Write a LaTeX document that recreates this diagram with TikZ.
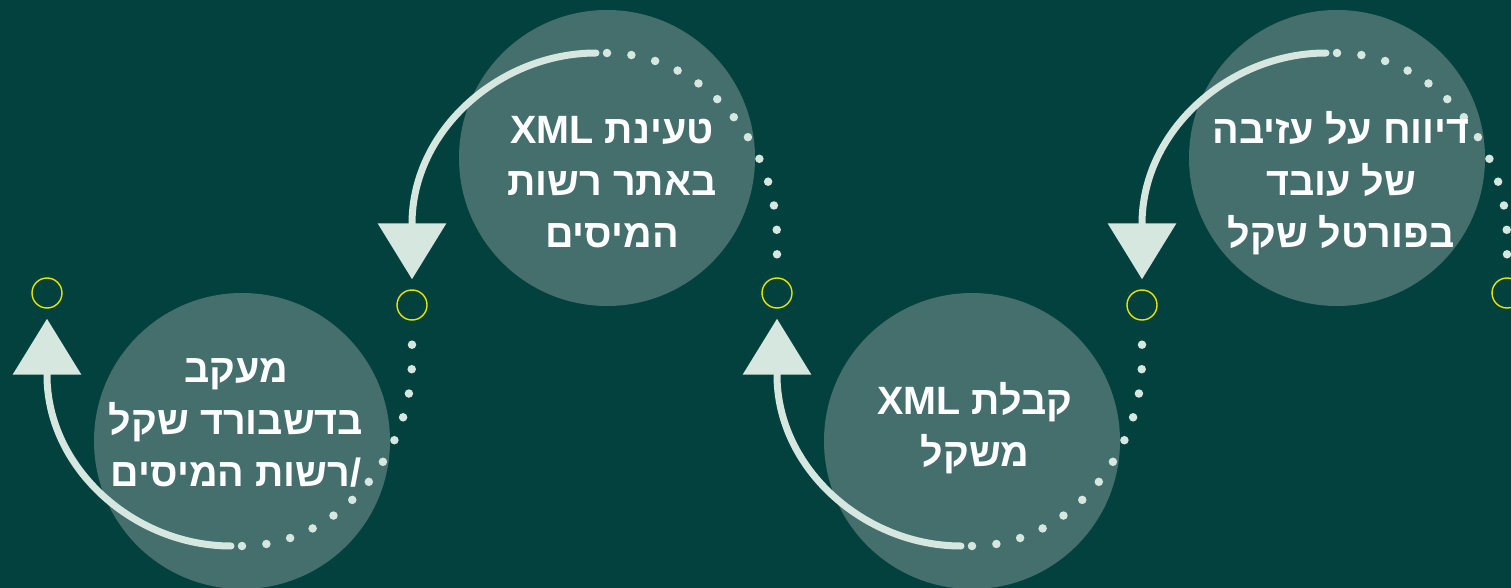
\documentclass[tikz,border=0pt]{standalone}
\usepackage{fontspec}
\newfontfamily\hebfont[Script=Hebrew]{Liberation Sans}
\TeXXeTstate=1
\usetikzlibrary{arrows.meta}
\definecolor{bgc}{HTML}{03413F}
\definecolor{discc}{HTML}{446F6D}
\definecolor{arcc}{HTML}{D5E7DF}
\definecolor{ringc}{HTML}{E6E600}
\begin{document}
\begin{tikzpicture}[x=1pt,y=-1pt,
  disc/.style={circle,fill=discc,minimum size=296pt,inner sep=0pt},
  ring/.style={circle,draw=ringc,line width=1.4pt,minimum size=30pt,inner sep=0pt},
  solidarc/.style={draw=arcc,line width=7pt,line cap=round,-{Triangle[width=67pt,length=56pt]},shorten >=10pt},
  dotarc/.style={draw=arcc,line width=8.5pt,line cap=round,dash pattern=on 0pt off 24.5pt,shorten >=14pt},
  steplabel/.style={text=white,font=\hebfont\bfseries\fontsize{39.5}{52}\selectfont,align=center,inner sep=0pt}]
\fill[bgc] (0,0) rectangle (1511,588);
\useasboundingbox (0,0) rectangle (1511,588);
% discs
\node[disc] (D1) at (242,441) {};
\node[disc] (D2) at (607,158) {};
\node[disc] (D3) at (972,441) {};
\node[disc] (D4) at (1337,158) {};
% rings
\node[ring] (Y1) at (47,293) {};
\node[ring] (Y2) at (412,305) {};
\node[ring] (Y3) at (777,293) {};
\node[ring] (Y4) at (1142,305) {};
\node[ring] (Y5) at (1507,293) {};
% circle 1 (bottom)
\draw[solidarc] (231,546) .. controls (135,546) and (47,469) .. (47,375) -- (Y1.south);
\draw[dotarc] (242,546) .. controls (335,546) and (412,459) .. (412,359) -- (Y2.south);
% circle 2 (top)
\draw[solidarc] (596,53) .. controls (500,53) and (412,130) .. (412,224) -- (Y2.north);
\draw[dotarc] (607,53) .. controls (700,53) and (777,140) .. (777,240) -- (Y3.north);
% circle 3 (bottom)
\draw[solidarc] (961,546) .. controls (865,546) and (777,469) .. (777,375) -- (Y3.south);
\draw[dotarc] (972,546) .. controls (1065,546) and (1142,459) .. (1142,359) -- (Y4.south);
% circle 4 (top)
\draw[solidarc] (1326,53) .. controls (1230,53) and (1142,130) .. (1142,224) -- (Y4.north);
\draw[dotarc] (1337,53) .. controls (1430,53) and (1507,140) .. (1507,240) -- (Y5.north);
% labels
\node[steplabel] (T1) at (236,423) {\beginR מעקב\endR\\ \beginR בדשבורד שקל\endR\\ \beginR /רשות המיסים\endR};
\node[steplabel] (T2) at (612,182) {\beginR טעינת \beginL XML\endL\endR\\ \beginR באתר רשות\endR\\ \beginR המיסים\endR};
\node[steplabel] (T3) at (975,428) {\beginR קבלת \beginL XML\endL\endR\\ \beginR משקל\endR};
\node[steplabel] (T4) at (1341,183) {\beginR דיווח על עזיבה\endR\\ \beginR של עובד\endR\\ \beginR בפורטל שקל\endR};
\end{tikzpicture}
\end{document}
